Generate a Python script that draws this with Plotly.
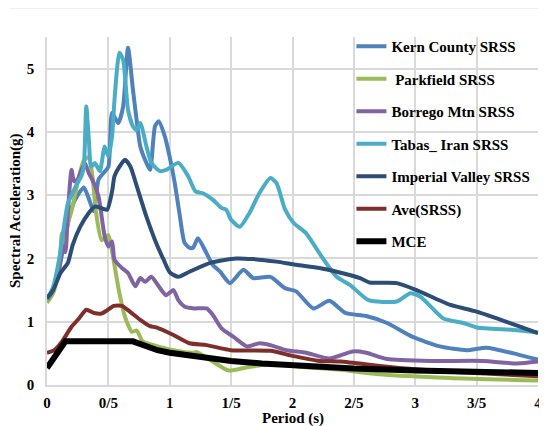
import plotly.graph_objects as go

# ---- data ----
kern_t = [0, 0.05, 0.1, 0.15, 0.2, 0.25, 0.3, 0.34, 0.38, 0.42, 0.46, 0.5, 0.53, 0.58, 0.62, 0.66, 0.7, 0.73,
          0.76, 0.81, 0.84, 0.88, 0.91, 0.96, 1.0, 1.04, 1.08, 1.12, 1.16, 1.19, 1.23, 1.3, 1.35, 1.41, 1.49, 1.6,
          1.68, 1.82, 1.94, 2.03, 2.17, 2.3, 2.43, 2.6, 2.77, 2.98, 3.2, 3.42, 3.58, 3.8, 4.0]
kern_v = [1.37, 1.5, 1.85, 2.35, 2.8, 3.0, 3.12, 2.95, 2.75, 3.25, 3.35, 3.45, 4.3, 4.14, 4.4, 5.33, 4.67, 4.19,
          3.77, 3.51, 3.40, 4.09, 4.17, 3.93, 3.6, 3.2, 2.7, 2.25, 2.17, 2.17, 2.32, 2.08, 1.90, 1.79, 1.61, 1.82,
          1.69, 1.71, 1.53, 1.48, 1.21, 1.33, 1.14, 1.09, 0.98, 0.76, 0.61, 0.55, 0.59, 0.50, 0.40]

park_t = [0, 0.05, 0.1, 0.12, 0.13, 0.16, 0.2, 0.25, 0.3, 0.34, 0.37, 0.4, 0.445, 0.5, 0.53, 0.59, 0.635, 0.66,
          0.69, 0.73, 0.78, 0.87, 1.03, 1.19, 1.22, 1.35, 1.48, 1.63, 1.84, 2.11, 2.39, 2.71, 3.28, 4.0]
park_v = [1.30, 1.45, 1.85, 2.4, 2.25, 2.5, 2.75, 3.2, 3.55, 3.6, 3.3, 2.72, 2.29, 2.37, 2.11, 1.45, 1.08, 0.95,
          0.84, 0.86, 0.69, 0.63, 0.55, 0.51, 0.52, 0.37, 0.23, 0.28, 0.33, 0.28, 0.24, 0.17, 0.11, 0.07]

borr_t = [0, 0.05, 0.1, 0.13, 0.15, 0.17, 0.2, 0.22, 0.25, 0.28, 0.31, 0.34, 0.38, 0.42, 0.47, 0.5, 0.53, 0.55,
          0.61, 0.66, 0.72, 0.76, 0.8, 0.85, 0.91, 0.97, 1.03, 1.07, 1.12, 1.2, 1.3, 1.35, 1.42, 1.52, 1.63, 1.73,
          1.82, 1.95, 2.11, 2.3, 2.49, 2.6, 2.77, 3.15, 3.55, 3.83, 4.0]
borr_v = [1.35, 1.5, 1.85, 2.2, 2.1, 2.72, 3.40, 3.22, 3.25, 3.4, 3.5, 3.35, 3.2, 2.98, 2.35, 2.19, 2.27, 1.98,
          1.85, 1.77, 1.56, 1.69, 1.63, 1.71, 1.56, 1.42, 1.50, 1.34, 1.24, 1.21, 1.21, 1.11, 0.90, 0.76, 0.61, 0.66,
          0.63, 0.55, 0.51, 0.42, 0.53, 0.51, 0.41, 0.38, 0.38, 0.34, 0.37]

tabas_t = [0, 0.05, 0.1, 0.13, 0.17, 0.2, 0.25, 0.28, 0.3, 0.32, 0.34, 0.36, 0.39, 0.43, 0.47, 0.5, 0.53, 0.55,
           0.59, 0.62, 0.66, 0.7, 0.73, 0.76, 0.81, 0.85, 0.92, 0.97, 1.07, 1.15, 1.21, 1.27, 1.35, 1.42, 1.46, 1.5,
           1.57, 1.65, 1.73, 1.82, 1.87, 1.94, 2.01, 2.11, 2.22, 2.36, 2.47, 2.62, 2.85, 2.96, 3.04, 3.23, 3.39, 3.5,
           3.8, 4.0]
tabas_v = [1.35, 1.55, 2.0, 2.4, 2.87, 3.0, 3.2, 3.3, 3.45, 4.40, 3.9, 3.45, 3.51, 3.38, 3.77, 3.61, 3.93, 4.51,
           5.25, 5.14, 4.35, 4.09, 4.03, 4.14, 3.77, 3.51, 3.38, 3.40, 3.51, 3.30, 3.06, 3.03, 2.93, 2.80, 2.77, 2.61,
           2.50, 2.72, 3.03, 3.27, 3.19, 2.77, 2.56, 2.40, 2.08, 1.71, 1.58, 1.34, 1.32, 1.45, 1.40, 1.05, 0.98, 0.91,
           0.87, 0.83]

imp_t = [0, 0.05, 0.11, 0.17, 0.21, 0.27, 0.34, 0.39, 0.45, 0.49, 0.53, 0.55, 0.59, 0.635, 0.68, 0.73, 0.81, 0.89,
         0.95, 1.0, 1.07, 1.16, 1.33, 1.54, 1.68, 1.87, 2.03, 2.22, 2.36, 2.55, 2.63, 2.85, 3.01, 3.28, 3.5, 4.0]
imp_v = [1.37, 1.5, 1.77, 1.93, 2.22, 2.5, 2.72, 2.82, 2.79, 2.77, 3.06, 3.3, 3.45, 3.56, 3.45, 3.15, 2.66, 2.24,
         1.98, 1.78, 1.71, 1.79, 1.93, 2.0, 1.99, 1.95, 1.90, 1.85, 1.79, 1.69, 1.62, 1.61, 1.50, 1.27, 1.16, 0.82]

ave_t = [0, 0.06, 0.12, 0.2, 0.26, 0.32, 0.38, 0.445, 0.49, 0.545, 0.61, 0.675, 0.76, 0.84, 0.89, 1.03, 1.16, 1.3,
         1.5, 1.82, 2.0, 2.22, 2.39, 2.71, 2.87, 3.28, 4.0]
ave_v = [0.51, 0.55, 0.68, 0.92, 1.05, 1.19, 1.14, 1.13, 1.18, 1.25, 1.25, 1.16, 1.03, 0.93, 0.91, 0.79, 0.66, 0.63,
         0.55, 0.54, 0.46, 0.38, 0.37, 0.30, 0.27, 0.21, 0.14]

mce_t = [0, 0.15, 0.7, 0.75, 0.8, 0.9, 1.0, 1.1, 1.2, 1.35, 1.5, 1.75, 2.0, 2.5, 3.0, 3.5, 4.0]
mce_v = [0.27, 0.69, 0.69, 0.65, 0.61, 0.55, 0.51, 0.48, 0.45, 0.41, 0.38, 0.34, 0.31, 0.26, 0.23, 0.21, 0.19]

x_tickvals = [0, 0.5, 1, 1.5, 2, 2.5, 3, 3.5, 4]
x_ticktext = ["0", "0/5", "1", "1/5", "2", "2/5", "3", "3/5", "4"]
y_tickvals = [0, 1, 2, 3, 4, 5]

series = [
    ("Kern County SRSS", kern_t, kern_v, "#4F81BD", 4, "spline"),
    (" Parkfield SRSS", park_t, park_v, "#9BBB59", 4, "spline"),
    ("Borrego Mtn SRSS", borr_t, borr_v, "#8064A2", 4, "spline"),
    ("Tabas_ Iran SRSS", tabas_t, tabas_v, "#4BACC6", 4, "spline"),
    ("Imperial Valley SRSS", imp_t, imp_v, "#2C4D75", 4, "spline"),
    ("Ave(SRSS)", ave_t, ave_v, "#7F2F2B", 4, "spline"),
    ("MCE", mce_t, mce_v, "#000000", 6, "linear"),
]

FONT = "Liberation Serif, Times New Roman, serif"

fig = go.Figure()
for i, (name, t, v, col, w, shp) in enumerate(series):
    line = dict(color=col, width=w, shape=shp)
    if shp == "spline":
        line["smoothing"] = 0.6
    fig.add_trace(go.Scatter(x=t, y=v, mode="lines", name=name, legendgroup=f"g{i}", line=line))

grid = "#D9D9D9"
# page body has an 8px margin; the figure is sized/offset to compensate
fig.update_layout(
    width=539, height=418,
    margin=dict(l=39, r=9, t=29, b=41, autoexpand=False),
    paper_bgcolor="white", plot_bgcolor="white",
    font=dict(family=FONT, size=15, color="black"),
    showlegend=True,
    legend=dict(
        x=0.620, y=1.02, xanchor="left", yanchor="top",
        bgcolor="rgba(0,0,0,0)", borderwidth=0,
        font=dict(family=FONT, size=15, color="black", weight="bold"),
        traceorder="grouped", tracegroupgap=10,
        itemwidth=30, maxheight=330,
    ),
    xaxis=dict(
        range=[0, 4], tickvals=x_tickvals, ticktext=x_ticktext,
        showgrid=True, gridcolor=grid, gridwidth=1.5,
        showline=True, linecolor=grid, linewidth=1.5, zeroline=False,
        ticks="", tickfont=dict(family=FONT, size=15, weight="bold"),
        ticklabelstandoff=3,
    ),
    yaxis=dict(
        range=[0, 5.5], tickvals=y_tickvals, ticktext=[str(v) for v in y_tickvals],
        showgrid=True, gridcolor=grid, gridwidth=1.5,
        showline=True, linecolor=grid, linewidth=1.5, zeroline=False,
        ticks="", tickfont=dict(family=FONT, size=15, weight="bold"),
        ticklabelstandoff=8,
    ),
    annotations=[
        dict(text="Spectral Acceleration(g)", xref="paper", yref="paper",
             x=0, xshift=-32, xanchor="center", y=0.5, yanchor="middle", textangle=-90,
             showarrow=False, font=dict(family=FONT, size=15, weight="bold")),
        dict(text="Period (s)", xref="paper", yref="paper",
             x=0.5, y=-0.095, xanchor="center", yanchor="middle",
             showarrow=False, font=dict(family=FONT, size=15, weight="bold")),
    ],
    shapes=[dict(
        type="line", xref="paper", yref="paper", x0=-0.075, x1=1.0, y0=1.083, y1=1.083,
        line=dict(color="#EBEBEB", width=1.5),
    )],
)

fig.write_html("out.html")
